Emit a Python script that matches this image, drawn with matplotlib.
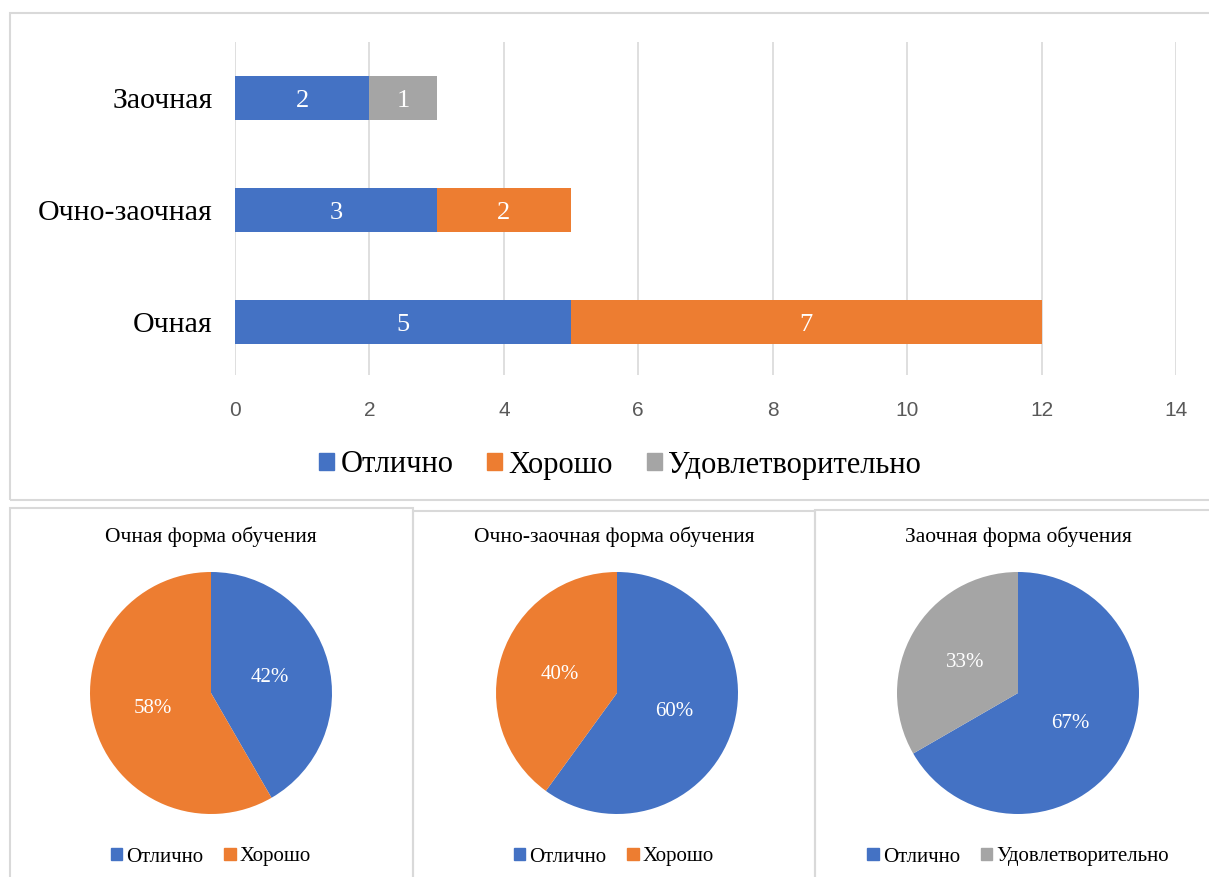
# -*- coding: utf-8 -*-
"""
Результаты по формам обучения: столбчатая диаграмма + три круговые
"""
import matplotlib.pyplot as plt
from matplotlib.patches import Patch, Rectangle

plt.rcParams['font.family'] = ['Liberation Serif', 'DejaVu Serif']

# данные
forms = ['Очная', 'Очно-заочная', 'Заочная']
grades = ['Отлично', 'Хорошо', 'Удовлетворительно']
excellent = [5, 3, 2]
good = [7, 2, 0]
satisfactory = [0, 0, 1]
pie_titles = ['Очная форма обучения', 'Очно-заочная форма обучения', 'Заочная форма обучения']
x_ticks = [0, 2, 4, 6, 8, 10, 12, 14]

BLUE = '#4472C4'
ORANGE = '#ED7D31'
GRAY = '#A5A5A5'
colors = [BLUE, ORANGE, GRAY]

W, H = 1209, 877
fig = plt.figure(figsize=(W / 100, H / 100), dpi=100)


def px_rect(x0, y0, x1, y1):
    """пиксели (сверху вниз) -> координаты фигуры"""
    return [x0 / W, 1 - y1 / H, (x1 - x0) / W, (y1 - y0) / H]


# рамки панелей
for (x0, y0, x1, y1) in [(10, 13, 1212, 500), (10, 508, 413, 880),
                         (413, 511, 815, 880), (815, 510, 1212, 880)]:
    r = px_rect(x0, y0, x1, y1)
    fig.patches.append(Rectangle((r[0], r[1]), r[2], r[3], transform=fig.transFigure,
                                 fill=False, edgecolor='#D9D9D9', linewidth=1.5))

# столбчатая диаграмма
ax = fig.add_axes(px_rect(235, 42, 1176, 375))
series = [excellent, good, satisfactory]
left = [0] * len(forms)
for vals, col in zip(series, colors):
    bars = ax.barh(forms, vals, left=left, height=0.39, color=col, zorder=3)
    for b, v in zip(bars, vals):
        if v:
            ax.text(b.get_x() + b.get_width() / 2, b.get_y() + b.get_height() / 2 - 0.03, str(v),
                    ha='center', va='center', color='white', fontsize=19, zorder=4)
    left = [l + v for l, v in zip(left, vals)]

ax.set_xlim(0, 14)
ax.set_ylim(-0.473, 2.5)
ax.set_xticks(x_ticks)
ax.xaxis.grid(True, color='#D9D9D9', linewidth=1.2, zorder=0)
for s in ax.spines.values():
    s.set_visible(False)
ax.tick_params(axis='both', length=0)
ax.tick_params(axis='x', pad=19, labelsize=15, labelcolor='#595959')
ax.tick_params(axis='y', pad=16, labelsize=21.5)
for t in ax.get_xticklabels():
    t.set_family('Liberation Sans')

handles = [Patch(color=c) for c in colors]
fig.legend(handles, grades, loc='center', bbox_to_anchor=(620 / W, 1 - 465 / H), ncol=3,
           frameon=False, fontsize=22, handlelength=0.5, handleheight=0.5,
           handletextpad=0.2, columnspacing=1.1)

# круговые диаграммы
pie_centers = [211, 617, 1018]
panel_mid = [211, 614, 1018]
pie_data = [
    ([excellent[0], good[0]], [BLUE, ORANGE], ['Отлично', 'Хорошо']),
    ([excellent[1], good[1]], [BLUE, ORANGE], ['Отлично', 'Хорошо']),
    ([excellent[2], satisfactory[2]], [BLUE, GRAY], ['Отлично', 'Удовлетворительно']),
]
R = 121
for cx, mx, title, (vals, cols, labs) in zip(pie_centers, panel_mid, pie_titles, pie_data):
    pax = fig.add_axes(px_rect(cx - R, 693 - R, cx + R, 693 + R))
    pax.pie(vals, colors=cols, startangle=90, counterclock=False, autopct='%1.0f%%',
            pctdistance=0.5, textprops={'color': 'white', 'fontsize': 15})
    pax.set_xlim(-1, 1)
    pax.set_ylim(-1, 1)
    pax.set_aspect('equal')
    fig.text(mx / W, 1 - 537 / H, title, ha='center', va='center', fontsize=15.5)
    fig.legend([Patch(color=c) for c in cols], labs, loc='center',
               bbox_to_anchor=(mx / W, 1 - 857 / H), ncol=2, frameon=False, fontsize=15,
               handlelength=0.55, handleheight=0.55, handletextpad=0.2, columnspacing=1.0)

fig.savefig('out.png', dpi=100)
